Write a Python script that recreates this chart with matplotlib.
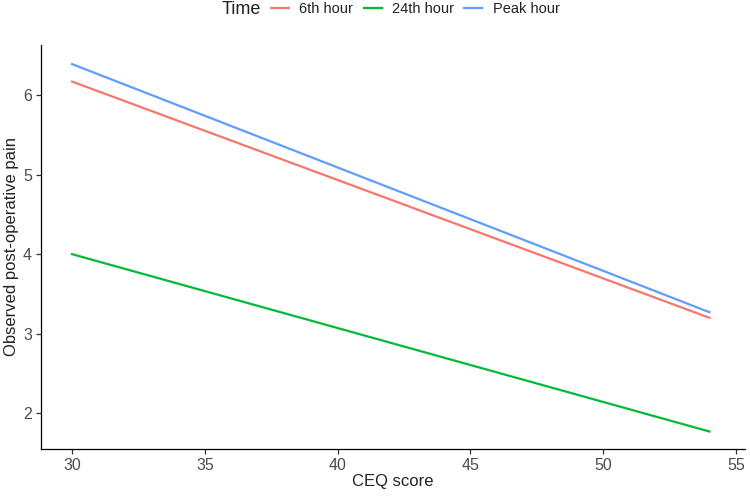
import matplotlib
matplotlib.use("Agg")
import matplotlib.pyplot as plt

plt.rcParams['font.family'] = ['Liberation Sans', 'DejaVu Sans']

x_vals = [30, 54]
series_names = ["6th hour", "24th hour", "Peak hour"]
sixth_hour = [6.17, 3.20]
twentyfourth_hour = [4.00, 1.77]
peak_hour = [6.39, 3.27]
colors = ["#F8766D", "#00BA38", "#619CFF"]
x_ticks = [30, 35, 40, 45, 50, 55]
y_ticks = [2, 3, 4, 5, 6]

W, H = 750, 497
fig = plt.figure(figsize=(W/100, H/100), dpi=100)
ax = fig.add_axes([41/W, (H-449)/H, (745-41)/W, (449-45)/H])

lines = []
for name, vals, c in zip(series_names, [sixth_hour, twentyfourth_hour, peak_hour], colors):
    l, = ax.plot(x_vals, vals, color=c, lw=1.6, label=name)
    lines.append(l)

ax.set_xlim(28.83, 55.34)
ax.set_ylim(1.55, 6.63)
ax.set_xticks(x_ticks)
ax.set_yticks(y_ticks)
for s in ['top', 'right']:
    ax.spines[s].set_visible(False)
for s in ['left', 'bottom']:
    ax.spines[s].set_color('black')
    ax.spines[s].set_linewidth(0.9)
ax.tick_params(axis='both', labelsize=11.5, color='#333333', length=3.5, width=0.9, labelcolor='#4D4D4D', pad=3)
ax.set_xlabel("CEQ score", fontsize=12, color='#222222', labelpad=1)
ax.set_ylabel("Observed post-operative pain", fontsize=12, color='#222222', labelpad=3)

fig.text(222/W, 1 - 9/H, "Time", fontsize=13, va='center', ha='left', color='#222222')
leg = fig.legend(handles=lines, labels=series_names, loc='center left',
                 bbox_to_anchor=(271/W, 1 - 9/H), ncol=3, frameon=False,
                 fontsize=10.5, handlelength=1.25, handletextpad=0.7, columnspacing=0.7,
                 borderaxespad=0, borderpad=0)
for t in leg.get_texts():
    t.set_color('#222222')

fig.savefig("out.png", dpi=100)
